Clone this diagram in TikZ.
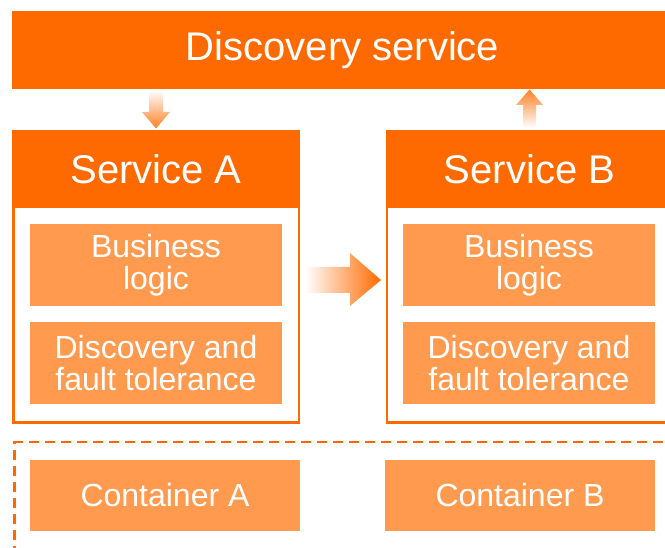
\documentclass[tikz,border=0pt]{standalone}
\usepackage{fontspec}
\setmainfont{Liberation Sans}
\definecolor{darkor}{HTML}{FF6A00}
\definecolor{lightor}{HTML}{FF9A4F}
\begin{document}
\begin{tikzpicture}[x=1pt,y=-1pt,
  hdr/.style={fill=darkor, text=white, inner sep=0pt, font=\fontsize{40}{42}\selectfont},
  innerbox/.style={fill=lightor, text=white, align=center, inner sep=0pt,
    minimum width=252pt, minimum height=82pt, font=\fontsize{32}{32}\selectfont},
  contbox/.style={fill=lightor, text=white, inner sep=0pt,
    minimum width=270pt, minimum height=71pt, font=\fontsize{32}{34}\selectfont},
  outl/.style={draw=darkor, line width=2.5pt, inner sep=0pt, minimum width=285.5pt, minimum height=291.5pt},
  hostline/.style={draw=darkor, line width=2.5pt, dash pattern=on 10pt off 6pt},
  blockarrow/.style={draw=none}
]
\useasboundingbox (0,0) rectangle (665,548);
\clip (0,0) rectangle (665,548);

% discovery service
\node[hdr, minimum width=661pt, minimum height=78pt] (disc) at (342.5,50) {Discovery service};

% service boxes
\node[outl] (boxA) at (156,277) {};
\node[outl] (boxB) at (529.5,277) {};
\node[hdr, minimum width=288pt, minimum height=78pt] (hA) at (156,169) {Service A};
\node[hdr, minimum width=288pt, minimum height=78pt] (hB) at (529.5,169) {Service B};

\node[innerbox] (blA) at (156,265) {Business\\logic};
\node[innerbox] (ftA) at (156,363) {Discovery and\\fault tolerance};
\node[innerbox] (blB) at (529,265) {Business\\logic};
\node[innerbox] (ftB) at (529,363) {Discovery and\\fault tolerance};

% host (dashed)
\node[hostline, inner sep=0pt, minimum width=700pt, minimum height=112pt, anchor=north west] (host) at (13.25,441) {};

\node[contbox] (cA) at (165,495.5) {Container A};
\node[contbox] (cB) at (520,495.5) {Container B};

% block arrows
\shade[top color=white, bottom color=darkor!85, blockarrow]
  (149,90) -- (163,90) -- (163,112) -- (170,112) -- (156,128.5) -- (142,112) -- (149,112) -- cycle;
\shade[top color=darkor!85, bottom color=white, blockarrow]
  (529.5,89.5) -- (543,105) -- (536,105) -- (536,128) -- (523,128) -- (523,105) -- (516,105) -- cycle;
\shade[left color=white, right color=darkor, blockarrow]
  (305,267) -- (350,267) -- (350,253) -- (381,280) -- (350,306) -- (350,293) -- (305,293) -- cycle;
\end{tikzpicture}
\end{document}
